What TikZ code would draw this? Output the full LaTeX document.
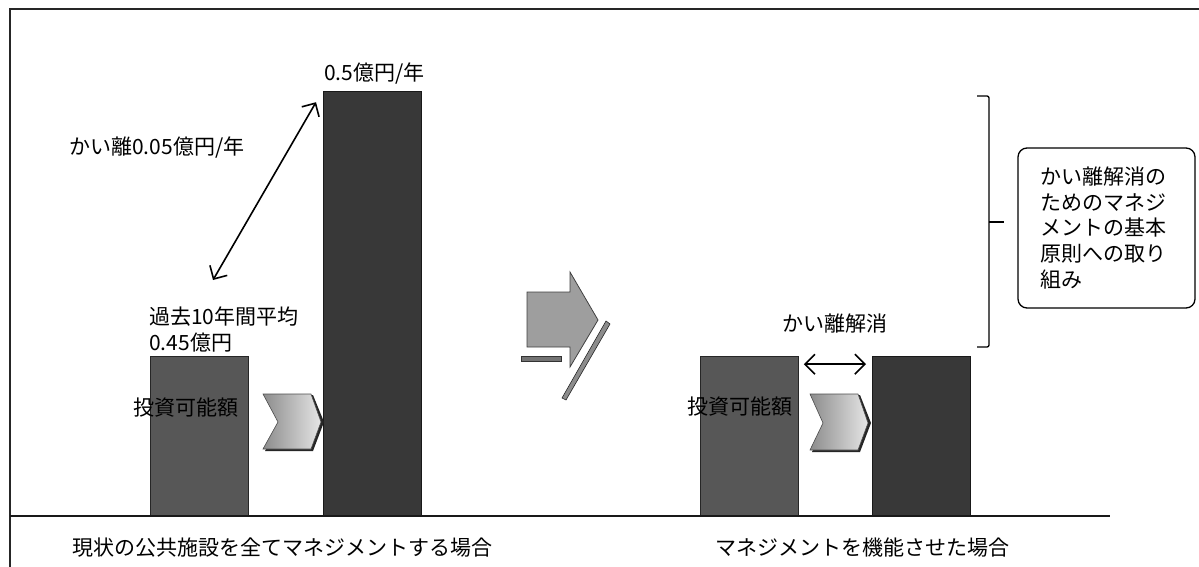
\documentclass[tikz,border=0pt]{standalone}
\usepackage{fontspec}
\setmainfont{Noto Sans CJK JP}
\usetikzlibrary{arrows.meta}
\begin{document}
\begin{tikzpicture}[x=1pt,y=-1pt,
  every node/.style={font=\fontsize{21}{26}\selectfont, inner sep=0pt},
  frameline/.style={line width=1.5pt, black!85},
  baseline/.style={line width=2pt, black!90},
  barA/.style={draw=black!85, line width=0.8pt, fill=black!66, anchor=south west, minimum width=98pt},
  barB/.style={draw=black!90, line width=0.8pt, fill=black!78, anchor=south west, minimum width=98pt},
  chev/.style={draw=black!70, line width=0.6pt, left color=black!45, right color=black!10},
  chevshadow/.style={fill=black!85},
  dbl/.style={line width=1.6pt, {Straight Barb[length=10pt,width=20pt]}-{Straight Barb[length=10pt,width=20pt]}},
  bigarrow/.style={draw=black!75, line width=0.8pt, fill=black!38},
  lbl/.style={anchor=west},
  brace/.style={line width=1.3pt, rounded corners=2pt},
  notebox/.style={draw, line width=1.3pt, rounded corners=9pt, minimum width=177pt, minimum height=160pt, text width=133pt, align=left, font=\fontsize{21}{25.6}\selectfont}
]
\useasboundingbox (0,0) rectangle (1199,567);
% frame
\draw[frameline] (10,567) -- (10,9) -- (1199,9);
% bars
\node[barA, minimum height=159pt] (b1) at (150,516) {};
\node[barB, minimum height=424pt] (b2) at (323,516) {};
\node[barA, minimum height=159pt] (b3) at (700,516) {};
\node[barB, minimum height=159pt] (b4) at (872,516) {};
\draw[baseline] (10,516) -- (1110,516);
% chevrons
\fill[chevshadow] (265,395) -- (313,395) -- (324,422) -- (313,451) -- (265,451) -- (280,422) -- cycle;
\path[chev] (263,394) -- (311,394) -- (321,422) -- (311,449) -- (263,449) -- (278,422) -- cycle;
\fill[chevshadow] (812,395) -- (860,395) -- (871,423) -- (860,452) -- (812,452) -- (825,423) -- cycle;
\path[chev] (810,394) -- (858,394) -- (868,423) -- (858,450) -- (810,450) -- (823,423) -- cycle;
% big arrow in the middle
\draw[bigarrow] (527,292) -- (570,292) -- (570,272) -- (598,320) -- (570,367) -- (570,347) -- (527,347) -- cycle;
\draw[draw=black!80, line width=0.6pt, fill=black!55] (521,356) rectangle (561,361);
\draw[draw=black!85, line width=0.6pt, fill=black!45] (606,321) -- (610,324) -- (566,400) -- (562,398) -- cycle;
% labels
\node[lbl] (t05) at (324,74) {0.5億円/年};
\node[lbl] (tgap) at (69,148) {かい離0.05億円/年};
\node[lbl, align=left] (tavg) at (149,329) {過去10年間平均\\0.45億円};
\node[lbl] (tinv1) at (133,408) {投資可能額};
\node[lbl] (tinv2) at (687,407) {投資可能額};
\node (tsolve) at (835,324) {かい離解消};
\node[lbl] (cap1) at (72,548) {現状の公共施設を全てマネジメントする場合};
\node[lbl] (cap2) at (715,548) {マネジメントを機能させた場合};
% arrows
\coordinate (dlow) at (213,280);
\draw[dbl] (dlow) -- ([shift={(-7,11)}]b2.north west);
\draw[dbl] ([shift={(5,8)}]b3.north east) -- ([shift={(-6,8)}]b4.north west);
% brace
\coordinate (brTop) at (977,96);
\coordinate (brBot) at (977,347);
\coordinate (brMid) at (989,222);
\draw[brace] (brTop) -- (989,96) -- (989,347) -- (brBot);
\draw[line width=1.3pt] (brMid) -- (1004,222);
% note box
\node[notebox] (note) at (1106.5,228) {かい離解消の\\ためのマネジ\\メントの基本\\原則への取り\\組み};
\end{tikzpicture}
\end{document}
